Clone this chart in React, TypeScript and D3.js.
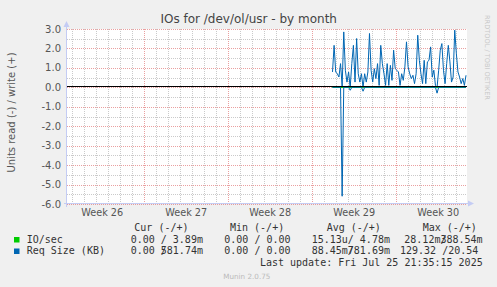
import React from "react";
import * as d3 from "d3";

const W = 497;
const H = 287;

// time frame (treated as UTC to be timezone independent)
const END_TIME = Date.UTC(2025, 6, 25, 21, 35, 15);
const SPAN_HOURS = 800;
const DATA_START_HOURS_AGO = 269;
const DATA_END_HOURS_AGO = 2;

// Req Size (KB): write (+) and read (-)
const reqWrite = [
  0.79, 2.16, 0.79, 0.7, 0.53, 1.22, 0.05, 2.85, 0.88, 0.27,
  0.79, 0.0, 1.22, 2.16, 0.27, 2.51, 0.7, 0.27, 0.7, 0.0,
  0.7, 0.27, 0.79, 2.77, 0.88, 0.27, 0.96, 0.45, 1.22, 0.1,
  2.16, 1.22, 0.7, 0.1, 1.22, 0.1, 1.13, 0.36, 1.91, 0.96,
  0.88, 0.79, 0.1, 0.7, 0.36, 1.05, 2.34, 1.05, 0.7, 0.45,
  0.62, 0.19, 0.7, 2.68, 1.39, 0.7, 0.19, 1.39, 0.19, 1.31,
  1.39, 2.08, 0.53, 0.88, 0.1, 0.0, 0.88, 1.91, 2.25, 0.88,
  0.19, 1.22, 2.16, 1.31, 0.27, 0.53, 2.94, 1.74, 0.79, 0.53,
  0.19, 0.45, 0.1, 0.62,
];
const reqRead = [
  0, 0, 0, 0, 0, 0, -5.6, 0, 0, 0,
  0, -0.15, 0, 0, 0, 0, 0, 0, 0, -0.2,
  0, 0, 0, 0, 0, 0, 0, 0, 0, 0,
  0, 0, 0, 0, 0, 0, 0, 0, 0, 0,
  0, 0, 0, 0, 0, 0, 0, 0, 0, 0,
  0, 0, 0, 0, 0, 0, 0, 0, 0, 0,
  0, 0, 0, 0, 0, -0.3, 0, 0, 0, 0,
  0, 0, 0, 0, 0, 0, 0, 0, 0, 0,
  0, 0, 0, 0,
];
// IO/sec: tiny values (milli)
const ioWrite = [0.004, 0.005, 0.003, 0.004, 0.006, 0.004, 0.003, 0.004];
const ioRead = [0, 0, 0, 0, 0, 0, 0, 0];

const yTicks = [3, 2, 1, 0, -1, -2, -3, -4, -5, -6];
const yMinor = [2.5, 1.5, 0.5, -0.5, -1.5, -2.5, -3.5, -4.5, -5.5];

const legendHeaders = ["Cur (-/+)", "Min (-/+)", "Avg (-/+)", "Max (-/+)"];
const seriesNames = ["IO/sec", "Req Size (KB)"];
const seriesColors = ["#00cc00", "#0066b3"];

const TITLE = "IOs for /dev/ol/usr - by month";
const Y_LABEL = "Units read (-) / write (+)";
const LAST_UPDATE = "Last update: Fri Jul 25 21:35:15 2025";

const PLOT = { left: 67, right: 467, top: 29, bottom: 204 };

const MONO = "'DejaVu Sans Mono', monospace";
const SANS = "'DejaVu Sans', sans-serif";
const CH = 6.02; // mono char width at 10px

export default function App() {
  const start = END_TIME - SPAN_HOURS * 3600e3;
  const x = d3
    .scaleUtc()
    .domain([new Date(start), new Date(END_TIME)])
    .range([PLOT.left, PLOT.right]);
  const y = d3.scaleLinear().domain([-6, 3]).range([PLOT.bottom, PLOT.top]);

  const dStart = END_TIME - DATA_START_HOURS_AGO * 3600e3;
  const dEnd = END_TIME - DATA_END_HOURS_AGO * 3600e3;
  const timeAt = (i: number, n: number) =>
    new Date(dStart + ((dEnd - dStart) * i) / (n - 1));

  const mkLine = (arr: number[]) =>
    d3
      .line<number>()
      .x((_, i) => x(timeAt(i, arr.length)))
      .y((d) => y(d))(arr) || "";

  const days = d3.utcDay.range(new Date(start), new Date(END_TIME));
  const weeks = d3.utcSunday.range(new Date(start), new Date(END_TIME));
  const weekSet = new Set(weeks.map((d) => +d));
  const weekLabels = d3.utcSunday
    .range(new Date(start - 7 * 864e5), new Date(END_TIME))
    .map((d) => new Date(+d + 3.5 * 864e5))
    .filter((d) => x(d) > PLOT.left + 10 && x(d) < PLOT.right - 10);
  const weekFmt = d3.utcFormat("%V");

  const minorColor = "rgba(180,180,180,0.7)";
  const majorColor = "rgba(225,120,120,0.7)";
  const axisColor = "#c4ccf4";
  const textColor = "#555";

  const y0 = Math.round(y(0)) - 0.5;

  return (
    <svg
      width={W}
      height={H}
      style={{ position: "absolute", left: 0, top: 0, display: "block" }}
    >
      <rect x={0} y={0} width={W} height={H} fill="#f0f0f0" />
      <rect
        x={PLOT.left}
        y={PLOT.top}
        width={PLOT.right - PLOT.left}
        height={PLOT.bottom - PLOT.top}
        fill="#ffffff"
      />

      {/* horizontal grid */}
      {yMinor.map((v) => (
        <line
          key={"hm" + v}
          x1={PLOT.left}
          x2={PLOT.right}
          y1={Math.round(y(v)) + 0.5}
          y2={Math.round(y(v)) + 0.5}
          stroke={minorColor}
          strokeDasharray="1,1"
        />
      ))}
      {/* vertical minor grid (days) */}
      {days
        .filter((d) => !weekSet.has(+d))
        .map((d) => (
          <line
            key={"vd" + +d}
            x1={Math.round(x(d)) + 0.5}
            x2={Math.round(x(d)) + 0.5}
            y1={PLOT.top}
            y2={PLOT.bottom}
            stroke={minorColor}
            strokeDasharray="1,1"
          />
        ))}
      {/* major horizontal */}
      {yTicks.map((v) => (
        <line
          key={"hM" + v}
          x1={PLOT.left}
          x2={PLOT.right}
          y1={Math.round(y(v)) + 0.5}
          y2={Math.round(y(v)) + 0.5}
          stroke={majorColor}
          strokeDasharray="1,1"
        />
      ))}
      {/* major vertical (weeks) */}
      {weeks.map((d) => (
        <line
          key={"vw" + +d}
          x1={Math.round(x(d)) + 0.5}
          x2={Math.round(x(d)) + 0.5}
          y1={PLOT.top}
          y2={PLOT.bottom}
          stroke={majorColor}
          strokeDasharray="1,1"
        />
      ))}

      {/* series */}
      <path d={mkLine(ioWrite)} fill="none" stroke={seriesColors[0]} strokeWidth={1} />
      <path d={mkLine(ioRead)} fill="none" stroke={seriesColors[0]} strokeWidth={1} />
      <path d={mkLine(reqWrite)} fill="none" stroke={seriesColors[1]} strokeWidth={1} />
      <path d={mkLine(reqRead)} fill="none" stroke={seriesColors[1]} strokeWidth={1} />

      {/* zero line */}
      <line x1={PLOT.left} x2={PLOT.right} y1={y0} y2={y0} stroke="#000" strokeWidth={1} />

      {/* axes */}
      <line
        x1={PLOT.left - 0.5}
        x2={PLOT.left - 0.5}
        y1={PLOT.bottom + 3}
        y2={PLOT.top - 6}
        stroke={axisColor}
      />
      <path
        d={`M${PLOT.left - 3.5},${PLOT.top - 2} L${PLOT.left - 0.5},${PLOT.top - 8} L${PLOT.left + 2.5},${PLOT.top - 2} Z`}
        fill={axisColor}
      />
      <line
        x1={PLOT.left - 3}
        x2={PLOT.right + 5}
        y1={PLOT.bottom - 0.5}
        y2={PLOT.bottom - 0.5}
        stroke={axisColor}
      />
      <path
        d={`M${PLOT.right + 1},${PLOT.bottom - 3.5} L${PLOT.right + 7},${PLOT.bottom - 0.5} L${PLOT.right + 1},${PLOT.bottom + 2.5} Z`}
        fill={axisColor}
      />

      {/* y tick labels */}
      {yTicks.map((v) => (
        <text
          key={"yt" + v}
          x={61}
          y={y(v) + 3.5}
          textAnchor="end"
          fontFamily={SANS}
          fontSize={10}
          fill={textColor}
        >
          {v.toFixed(1)}
        </text>
      ))}

      {/* week labels */}
      {weekLabels.map((d) => (
        <text
          key={"wl" + +d}
          x={x(d)}
          y={215.5}
          textAnchor="middle"
          fontFamily={SANS}
          fontSize={9.7}
          fill={textColor}
        >
          {"Week " + weekFmt(d)}
        </text>
      ))}

      {/* title */}
      <text
        x={248.7}
        y={23}
        textAnchor="middle"
        fontFamily={SANS}
        fontSize={12}
        fill="#444"
      >
        {TITLE}
      </text>

      {/* y axis label */}
      <text
        transform="translate(14.5,112.5) rotate(-90)"
        textAnchor="middle"
        fontFamily={SANS}
        fontSize={10}
        fill={textColor}
      >
        {Y_LABEL}
      </text>

      {/* rrdtool watermark */}
      <text
        transform="translate(485,15) rotate(90)"
        textAnchor="start"
        fontFamily={SANS}
        fontSize={6.6}
        fill="#c8c8c8"
      >
        RRDTOOL / TOBI OETIKER
      </text>

      {/* legend */}
      <g fontFamily={MONO} fontSize={10} fill="#333">
        {legendHeaders.map((h, i) => (
          <text key={h} x={[134.3, 230, 326.7, 422.7][i]} y={230.5} style={{ whiteSpace: "pre" }}>
            {h}
          </text>
        ))}
        {seriesNames.map((n, i) => (
          <g key={n}>
            <rect x={14} y={237 + i * 11.5} width={5.5} height={5.5} fill={seriesColors[i]} />
            <text x={26.7} y={242.5 + i * 11.5} style={{ whiteSpace: "pre" }}>
              {n}
            </text>
          </g>
        ))}
        {/* row 1 */}
        <text x={130.7} y={242.5} style={{ whiteSpace: "pre" }}>0.00 / 3.89m</text>
        <text x={224.3} y={242.5} style={{ whiteSpace: "pre" }}>0.00 / 0.00</text>
        <text x={311.7} y={242.5} style={{ whiteSpace: "pre" }}>15.13u/ 4.78m</text>
        <text x={404.3} y={242.5}>
          28.12m/<tspan dx={-CH}>388.54m</tspan>
        </text>
        {/* row 2 */}
        <text x={130.7} y={254} style={{ whiteSpace: "pre" }}>
          {"0.00 /"}<tspan dx={-CH}>581.74m</tspan>
        </text>
        <text x={224.3} y={254} style={{ whiteSpace: "pre" }}>0.00 / 0.00</text>
        <text x={311.7} y={254}>
          88.45m/<tspan dx={-CH}>781.69m</tspan>
        </text>
        <text x={400} y={254} style={{ whiteSpace: "pre" }}>129.32 /20.54</text>
        <text x={482.7} y={265.5} textAnchor="end" style={{ whiteSpace: "pre" }}>
          {LAST_UPDATE}
        </text>
      </g>

      <text x={223.3} y={279} fontFamily={SANS} fontSize={7.2} fill="#bbb">
        Munin 2.0.75
      </text>
    </svg>
  );
}
